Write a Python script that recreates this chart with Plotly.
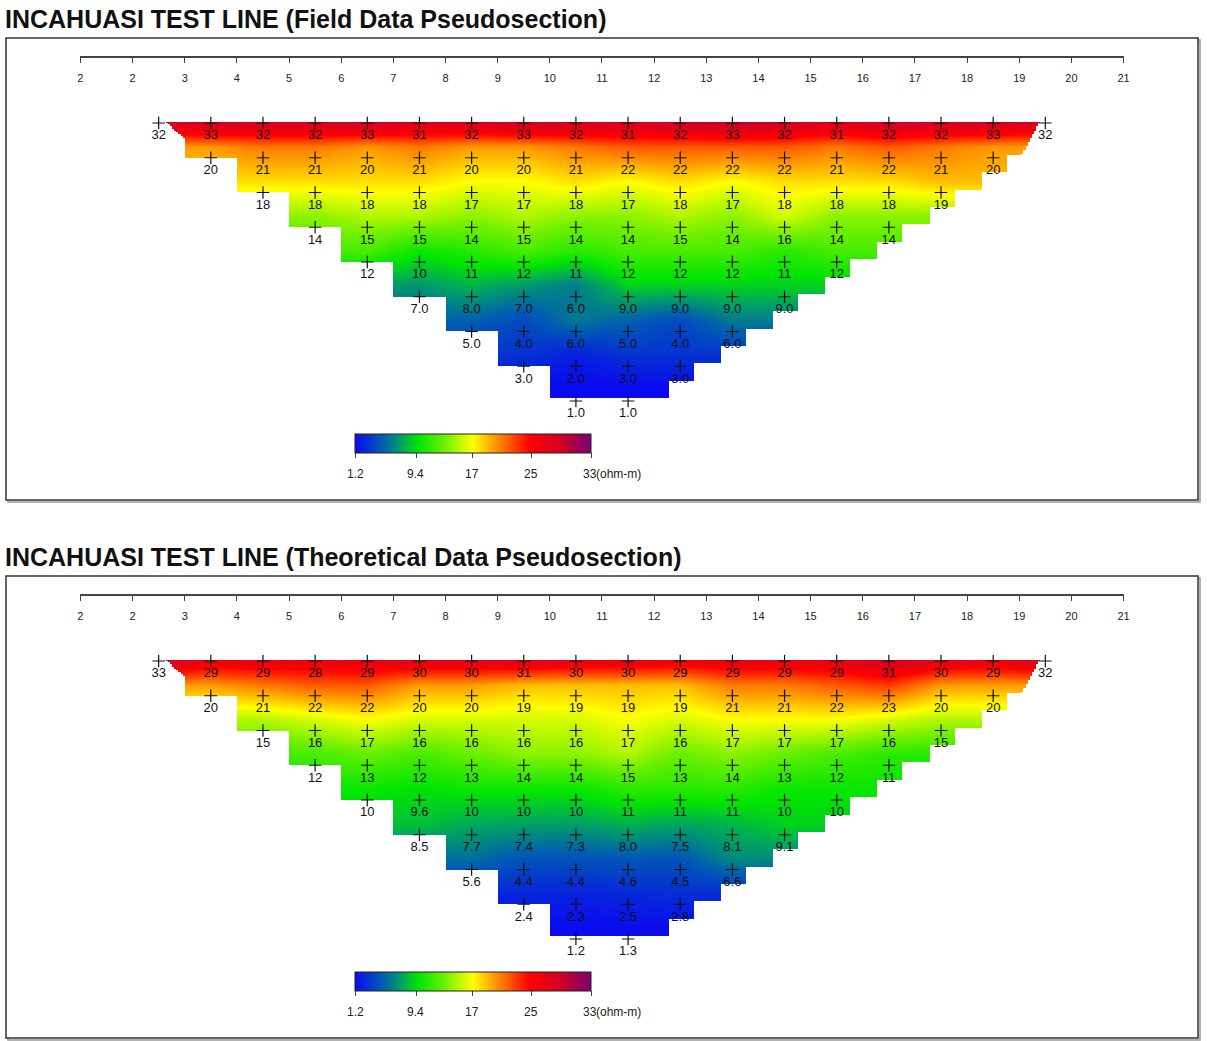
import numpy as np
import plotly.graph_objects as go

# ---------------- data ----------------
tick_labels = ["2", "2", "3", "4", "5", "6", "7", "8", "9", "10", "11",
               "12", "13", "14", "15", "16", "17", "18", "19", "20", "21"]

field_row1 = [32, 33, 32, 32, 33, 31, 32, 33, 32, 31, 32, 33, 32, 31, 32, 32, 33, 32]
field_row2 = [20, 21, 21, 20, 21, 20, 20, 21, 22, 22, 22, 22, 21, 22, 21, 20]
field_row3 = [18, 18, 18, 18, 17, 17, 18, 17, 18, 17, 18, 18, 18, 19]
field_row4 = [14, 15, 15, 14, 15, 14, 14, 15, 14, 16, 14, 14]
field_row5 = [12, 10, 11, 12, 11, 12, 12, 12, 11, 12]
field_row6 = [7.0, 8.0, 7.0, 6.0, 9.0, 9.0, 9.0, 9.0]
field_row7 = [5.0, 4.0, 6.0, 5.0, 4.0, 6.0]
field_row8 = [3.0, 2.0, 3.0, 3.0]
field_row9 = [1.0, 1.0]

theo_row1 = [33, 29, 29, 28, 29, 30, 30, 31, 30, 30, 29, 29, 29, 29, 31, 30, 29, 32]
theo_row2 = [20, 21, 22, 22, 20, 20, 19, 19, 19, 19, 21, 21, 22, 23, 20, 20]
theo_row3 = [15, 16, 17, 16, 16, 16, 16, 17, 16, 17, 17, 17, 16, 15]
theo_row4 = [12, 13, 12, 13, 14, 14, 15, 13, 14, 13, 12, 11]
theo_row5 = [10, 9.6, 10, 10, 10, 11, 11, 11, 10, 10]
theo_row6 = [8.5, 7.7, 7.4, 7.3, 8.0, 7.5, 8.1, 9.1]
theo_row7 = [5.6, 4.4, 4.4, 4.6, 4.5, 6.6]
theo_row8 = [2.4, 2.3, 2.5, 2.8]
theo_row9 = [1.2, 1.3]

field_rows = [field_row1, field_row2, field_row3, field_row4, field_row5,
              field_row6, field_row7, field_row8, field_row9]
theo_rows = [theo_row1, theo_row2, theo_row3, theo_row4, theo_row5,
             theo_row6, theo_row7, theo_row8, theo_row9]

cbar_vals = [1.2, 9.4, 17, 25, 33]
cbar_text = ["1.2", "9.4", "17", "25", "33"]
cbar_unit = "(ohm-m)"

titles = ["INCAHUASI TEST LINE (Field Data Pseudosection)",
          "INCAHUASI TEST LINE (Theoretical Data Pseudosection)"]

# ---------------- layout constants ----------------
W, H = 1207, 1041
X0, DX = 78, 52.55          # pixel of tick 0, tick spacing
Y1, DY = 123, 34.75         # pixel of row-1 data point, row spacing
OFF = 538                   # vertical offset between panels
CB_X, CB_LEN, CB_Y = 355, 236, 434
ZMIN, ZMAX = 1.2, 33
FONT = "Liberation Sans Narrow, Arial Narrow, Liberation Sans, Arial"

def py(px):
    return 1 - px / H

def px_to_r(p):
    return 1 + (p - Y1) / DY

colorscale = [
    [0.00, "rgb(10,10,240)"],
    [0.12, "rgb(0,95,175)"],
    [0.20, "rgb(0,165,95)"],
    [0.27, "rgb(0,230,0)"],
    [0.38, "rgb(110,240,0)"],
    [0.50, "rgb(255,255,0)"],
    [0.60, "rgb(255,145,0)"],
    [0.74, "rgb(255,0,0)"],
    [0.88, "rgb(205,0,40)"],
    [1.00, "rgb(120,0,120)"],
]

# grid
gi = np.arange(1.5, 18.6, 0.04)
gr = np.arange(0.95, 8.95, 0.02)
R0, R1 = 0.97, 8.91


def left_edge(r):
    return np.where(r < 1.46, 1.62 + (r - 0.94) * 0.73, np.floor(r) + 1)


def right_edge(r):
    return np.where(r < 1.93, 18.4 - (r - 0.94) * 0.36,
                    17.77 - 0.5 * np.floor(2 * (r - 1.93)))


def grid_values(rows):
    V = []
    for k, vals in enumerate(rows, start=1):
        pos = k + 0.5 + np.arange(len(vals))
        V.append(np.interp(gi, pos, vals))
    V = np.array(V)
    Z = np.full((len(gr), len(gi)), np.nan)
    L = left_edge(gr)
    R = right_edge(gr)
    for a, r in enumerate(gr):
        if r < R0 or r > R1:
            continue
        d = min(max(r + 0.3, 1.0), 9.0)
        k0 = int(np.floor(d))
        k1 = min(k0 + 1, 9)
        t = d - k0
        row = V[k0 - 1] * (1 - t) + V[k1 - 1] * t
        m = (gi >= L[a]) & (gi <= R[a])
        Z[a, m] = row[m]
    return Z


fig = go.Figure()
shapes = []
annotations = []

for p, (rows, title) in enumerate(zip([field_rows, theo_rows], titles)):
    off = p * OFF
    xa = "x" if p == 0 else "x2"
    ya = "y" if p == 0 else "y2"
    Z = grid_values(rows)
    fig.add_trace(go.Heatmap(
        x=gi, y=gr, z=Z, xaxis=xa, yaxis=ya,
        colorscale=colorscale, zmin=ZMIN, zmax=ZMAX, zsmooth=False,
        hoverinfo="skip",
        colorbar=dict(
            orientation="h", x=CB_X / W, xanchor="left",
            y=py(CB_Y + off), yanchor="top",
            len=CB_LEN, lenmode="pixels", thickness=19, thicknessmode="pixels",
            xpad=0, ypad=0, outlinewidth=1, outlinecolor="#222",
            tickvals=cbar_vals, ticktext=cbar_text, ticks="outside",
            ticklen=5, tickcolor="#444", showticklabels=False,
        ),
    ))
    # colour-bar labels placed on the colour-bar scale
    for v, t in zip(cbar_vals, cbar_text):
        xpx = CB_X + (v - ZMIN) / (ZMAX - ZMIN) * CB_LEN
        annotations.append(dict(text=t, xref="paper", yref="paper",
                                x=xpx / W, y=py(474 + off), xanchor="center",
                                yanchor="middle", showarrow=False,
                                font=dict(family=FONT, size=12, color="#222")))
    annotations.append(dict(text=cbar_unit, xref="paper", yref="paper",
                            x=(CB_X + CB_LEN + 4) / W, y=py(474 + off),
                            xanchor="left", yanchor="middle", showarrow=False,
                            font=dict(family=FONT, size=12, color="#222")))
    # data points + labels
    xs, ys, txt = [], [], []
    for k, vals in enumerate(rows, start=1):
        for j, v in enumerate(vals):
            xs.append(k + 0.5 + j)
            ys.append(k)
            txt.append(f"{v:.1f}" if v < 10 else f"{v:.0f}")
    fig.add_trace(go.Scatter(
        x=xs, y=ys, xaxis=xa, yaxis=ya, mode="markers+text",
        marker=dict(symbol="cross-thin", size=9,
                    line=dict(color="#111", width=1.2), color="#111"),
        text=txt, textposition="bottom center",
        textfont=dict(family=FONT, size=13, color="#111"),
        cliponaxis=False, hoverinfo="skip", showlegend=False,
    ))
    # frame + shadow
    shapes.append(dict(type="rect", xref="paper", yref="paper",
                       x0=5 / W, x1=1206 / W, y0=py(502 + off), y1=py(40 + off),
                       line=dict(color="#999", width=1.5), layer="below"))
    shapes.append(dict(type="rect", xref="paper", yref="paper",
                       x0=3 / W, x1=1204 / W, y0=py(500 + off), y1=py(38 + off),
                       fillcolor="white",
                       line=dict(color="#333", width=1.5), layer="below"))
    annotations.append(dict(text=f"<b>{title}</b>", xref="paper", yref="paper",
                            x=0, y=py(19 + off), xanchor="left", yanchor="middle",
                            showarrow=False,
                            font=dict(family=FONT, size=25, color="#111")))

# axes
rng_top, rng_bot = px_to_r(480), px_to_r(100)
xcommon = dict(domain=[X0 / W, (X0 + 20 * DX) / W], range=[0, 20],
               tickvals=list(range(21)), ticktext=tick_labels,
               showline=True, linecolor="#444", linewidth=1.5,
               ticks="outside", ticklen=5, tickcolor="#444", tickwidth=1,
               showgrid=False, zeroline=False, anchor="free", side="bottom",
               ticklabelstandoff=6,
               tickfont=dict(family=FONT, size=11, color="#222"))
ycommon = dict(range=[rng_top, rng_bot], visible=False, showgrid=False,
               zeroline=False)

fig.update_layout(
    width=W, height=H, margin=dict(l=0, r=0, t=0, b=0),
    paper_bgcolor="white", plot_bgcolor="rgba(0,0,0,0)",
    showlegend=False,
    xaxis=dict(xcommon, position=py(57)),
    xaxis2=dict(xcommon, position=py(57 + OFF)),
    yaxis=dict(ycommon, domain=[py(480), py(100)], anchor="x"),
    yaxis2=dict(ycommon, domain=[py(480 + OFF), py(100 + OFF)], anchor="x2"),
    shapes=shapes, annotations=annotations,
)

fig.write_html("out.html")
